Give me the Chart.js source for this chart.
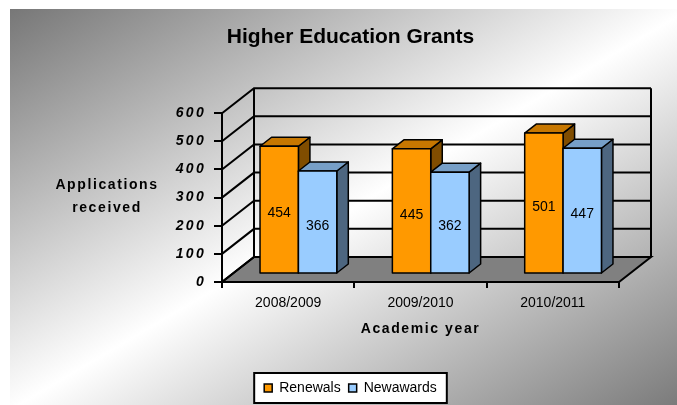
<!DOCTYPE html>
<html>
<head>
<meta charset="utf-8">
<title>Higher Education Grants</title>
<script src="https://cdn.jsdelivr.net/npm/chart.js@4.4.1/dist/chart.umd.min.js"></script>
<style>
  html, body { margin: 0; padding: 0; background: #ffffff; }
  #wrap { position: relative; width: 677px; height: 405px; }
</style>
</head>
<body>
<div id="wrap"><canvas id="grantsChart"></canvas></div>
<script>
const FONT = "'Liberation Sans', Arial, Helvetica, sans-serif";
Chart.defaults.font.family = FONT;
Chart.defaults.color = '#000000';

// Data
const years = ['2008/2009', '2009/2010', '2010/2011'];
const renewals = [454, 445, 501];
const newAwards = [366, 362, 447];
const yMax = 600;
const yStep = 100;

// Excel style 3D colours: front, lit top, shaded side
const COLORS = {
    renewals: { front: '#FF9900', top: '#C77700', side: '#804D00' },
    newAwards: { front: '#99CCFF', top: '#779FC7', side: '#4D6680' },
    floor: '#808080',
    line: '#000000'
};

// offset of the back wall from the front plane, bars sit between these fractions
const DEPTH = { dx: 32, dy: -25 };
const BAR_FRONT = 0.32;
const BAR_BACK = 0.68;

// Chart.js has no letter spacing option, the original spaces its axis text out
function spaceOut(scale, labelSpacing, titleSpacing) {
    if (scale._spaced) return;
    scale._spaced = true;
    const drawLabels = scale.drawLabels;
    const drawTitle = scale.drawTitle;
    scale.drawLabels = function (area) {
        this.ctx.letterSpacing = labelSpacing;
        drawLabels.call(this, area);
        this.ctx.letterSpacing = '0px';
    };
    scale.drawTitle = function () {
        this.ctx.letterSpacing = titleSpacing;
        drawTitle.call(this);
        this.ctx.letterSpacing = '0px';
    };
}

function drawBox(ctx, x0, x1, yTop, yBase, c) {
    const fx = BAR_FRONT * DEPTH.dx, fy = BAR_FRONT * DEPTH.dy;
    const bx = BAR_BACK * DEPTH.dx, by = BAR_BACK * DEPTH.dy;
    ctx.lineWidth = 1.5;
    ctx.strokeStyle = COLORS.line;
    ctx.lineJoin = 'round';

    // side
    ctx.beginPath();
    ctx.moveTo(x1 + fx, yTop + fy);
    ctx.lineTo(x1 + bx, yTop + by);
    ctx.lineTo(x1 + bx, yBase + by);
    ctx.lineTo(x1 + fx, yBase + fy);
    ctx.closePath();
    ctx.fillStyle = c.side;
    ctx.fill();
    ctx.stroke();

    // top
    ctx.beginPath();
    ctx.moveTo(x0 + fx, yTop + fy);
    ctx.lineTo(x1 + fx, yTop + fy);
    ctx.lineTo(x1 + bx, yTop + by);
    ctx.lineTo(x0 + bx, yTop + by);
    ctx.closePath();
    ctx.fillStyle = c.top;
    ctx.fill();
    ctx.stroke();

    // front
    ctx.beginPath();
    ctx.rect(x0 + fx, yTop + fy, x1 - x0, yBase - yTop);
    ctx.fillStyle = c.front;
    ctx.fill();
    ctx.stroke();
}

function drawScene(chart) {
    const { ctx, chartArea, scales: { x, y } } = chart;
    const { left, right } = chartArea;
    const { dx, dy } = DEPTH;
    const y0 = y.getPixelForValue(0);
    const yTop = y.getPixelForValue(yMax);

    ctx.save();
    ctx.lineWidth = 2;
    ctx.strokeStyle = COLORS.line;

    // floor
    ctx.beginPath();
    ctx.moveTo(left, y0);
    ctx.lineTo(right, y0);
    ctx.lineTo(right + dx, y0 + dy);
    ctx.lineTo(left + dx, y0 + dy);
    ctx.closePath();
    ctx.fillStyle = COLORS.floor;
    ctx.fill();
    ctx.stroke();

    // gridlines on the side wall and back wall
    ctx.beginPath();
    y.ticks.forEach(t => {
        const py = y.getPixelForValue(t.value);
        ctx.moveTo(left, py);
        ctx.lineTo(left + dx, py + dy);
        ctx.lineTo(right + dx, py + dy);
    });
    ctx.moveTo(left + dx, y0 + dy);
    ctx.lineTo(left + dx, yTop + dy);
    ctx.moveTo(right + dx, y0 + dy);
    ctx.lineTo(right + dx, yTop + dy);
    ctx.stroke();

    // bars and their value labels
    const faces = [COLORS.renewals, COLORS.newAwards];
    years.forEach((_, i) => {
        chart.data.datasets.forEach((ds, d) => {
            const bar = chart.getDatasetMeta(d).data[i];
            drawBox(ctx, bar.x - bar.width / 2, bar.x + bar.width / 2, bar.y, bar.base, faces[d]);
        });
        chart.data.datasets.forEach((ds, d) => {
            const bar = chart.getDatasetMeta(d).data[i];
            ctx.font = '14px ' + FONT;
            ctx.textAlign = 'center';
            ctx.textBaseline = 'middle';
            ctx.fillStyle = '#000000';
            ctx.fillText(String(ds.data[i]), bar.x + BAR_FRONT * dx, (bar.y + bar.base) / 2 + BAR_FRONT * dy + 4);
        });
    });

    // y axis caption sits horizontally, which Chart.js titles cannot do
    ctx.font = 'bold 14px ' + FONT;
    ctx.letterSpacing = '1.6px';
    ctx.textAlign = 'center';
    ctx.textBaseline = 'middle';
    ctx.fillStyle = '#000000';
    ctx.fillText('Applications', 107, 185);
    ctx.fillText('received', 107, 208);
    ctx.letterSpacing = '0px';
    ctx.restore();
}

const excel3d = {
    id: 'excel3d',
    beforeDraw(chart) {
        const ctx = chart.ctx;
        ctx.save();
        // diagonal grey - white - grey fill of the chart object
        ctx.translate(10, 9);
        ctx.scale(680, 401);
        const g = ctx.createLinearGradient(0, 0, 1, 1);
        g.addColorStop(0, '#777777');
        g.addColorStop(0.5, '#ffffff');
        g.addColorStop(1, '#777777');
        ctx.fillStyle = g;
        ctx.fillRect(0, 0, 1, 1);
        ctx.restore();

        // framed legend
        const boxes = chart.legend.legendHitBoxes;
        if (boxes && boxes.length) {
            const l = Math.min(...boxes.map(b => b.left)) - 10;
            const r = Math.max(...boxes.map(b => b.left + b.width)) + 10;
            const t = boxes[0].top - 8;
            const h = boxes[0].height + 16;
            ctx.save();
            ctx.fillStyle = '#ffffff';
            ctx.strokeStyle = '#000000';
            ctx.lineWidth = 2;
            ctx.fillRect(l, t, r - l, h);
            ctx.strokeRect(l, t, r - l, h);
            ctx.restore();
        }

        spaceOut(chart.scales.x, '0px', '1.6px');
        spaceOut(chart.scales.y, '2.3px', '0px');
    },
    beforeDatasetsDraw(chart) {
        drawScene(chart);
    },
    beforeDatasetDraw() {
        // bars are drawn as 3D boxes in drawScene
        return false;
    }
};

function initGrantsChart() {
    const ctx = document.getElementById('grantsChart');
    new Chart(ctx, {
        type: 'bar',
        data: {
            labels: years,
            datasets: [
                {
                    label: 'Renewals',
                    data: renewals,
                    backgroundColor: COLORS.renewals.front,
                    borderColor: COLORS.line,
                    borderWidth: 1.5
                },
                {
                    label: 'Newawards',
                    data: newAwards,
                    backgroundColor: COLORS.newAwards.front,
                    borderColor: COLORS.line,
                    borderWidth: 1.5
                }
            ]
        },
        options: {
            responsive: true,
            maintainAspectRatio: false,
            animation: false,
            categoryPercentage: 0.58,
            barPercentage: 1,
            layout: {
                padding: { left: 82, right: 58, top: 9, bottom: 0 }
            },
            plugins: {
                title: {
                    display: true,
                    text: 'Higher Education Grants',
                    color: '#000000',
                    font: { size: 21, weight: 'bold' },
                    padding: { top: 16, bottom: 63 }
                },
                legend: {
                    position: 'bottom',
                    labels: {
                        boxWidth: 8,
                        boxHeight: 8,
                        padding: 8,
                        color: '#000000',
                        font: { size: 14 }
                    }
                },
                tooltip: { enabled: false }
            },
            scales: {
                x: {
                    offset: true,
                    grid: {
                        offset: true,
                        drawOnChartArea: false,
                        tickLength: 6,
                        color: '#000000',
                        lineWidth: 2
                    },
                    border: { color: '#000000', width: 2 },
                    ticks: { font: { size: 14 }, padding: 7 },
                    title: {
                        display: true,
                        text: 'Academic year',
                        font: { size: 14, weight: 'bold' },
                        padding: { top: 0, bottom: 35 }
                    },
                    afterFit(scale) { scale.height = 91; }
                },
                y: {
                    min: 0,
                    max: yMax,
                    grid: {
                        drawOnChartArea: false,
                        tickLength: 8,
                        color: '#000000',
                        lineWidth: 2
                    },
                    border: { color: '#000000', width: 2 },
                    ticks: {
                        stepSize: yStep,
                        padding: 8,
                        font: { size: 14, weight: 'bold', style: 'italic' }
                    },
                    afterFit(scale) { scale.width = 140; }
                }
            }
        },
        plugins: [excel3d]
    });
}

if (document.readyState === 'loading') {
    document.addEventListener('DOMContentLoaded', initGrantsChart);
} else {
    initGrantsChart();
}
</script>
</body>
</html>
